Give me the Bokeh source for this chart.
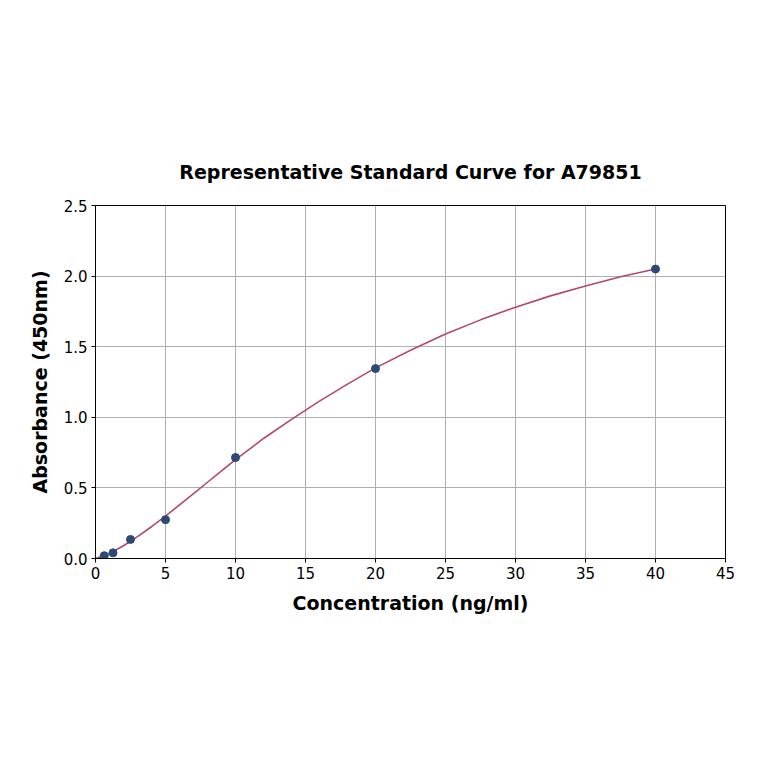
from bokeh.plotting import figure
from bokeh.models import Range1d, FixedTicker
from bokeh.embed import file_html
from bokeh.resources import INLINE

# Standard points
conc = [0.625, 1.25, 2.5, 5, 10, 20, 40]
absorb = [0.02, 0.04, 0.135, 0.275, 0.715, 1.345, 2.05]

# Fitted curve
curve_x = [0, 1, 2, 3, 4, 5, 6, 7, 8, 9, 10, 12, 14, 16, 18, 20, 22.5, 25, 27.5, 30, 32.5, 35, 37.5, 40]
curve_y = [0.0, 0.035, 0.09, 0.155, 0.225, 0.30, 0.38, 0.46, 0.54, 0.62, 0.70, 0.85, 0.985, 1.115,
           1.235, 1.35, 1.475, 1.59, 1.69, 1.78, 1.86, 1.93, 1.995, 2.05]

x_ticks = [0, 5, 10, 15, 20, 25, 30, 35, 40, 45]
y_ticks = [0.0, 0.5, 1.0, 1.5, 2.0, 2.5]
y_labels = {0.0: "0.0", 0.5: "0.5", 1.0: "1.0", 1.5: "1.5", 2.0: "2.0", 2.5: "2.5"}

FONT = "DejaVu Sans"

p = figure(width=748, height=748, output_backend="svg", toolbar_location=None,
           x_range=Range1d(0, 45), y_range=Range1d(0, 2.5),
           title="Representative Standard Curve for A79851",
           min_border_left=95, min_border_right=23, min_border_top=205, min_border_bottom=190)

p.title.text_font = FONT
p.title.text_font_size = "19px"
p.title.text_font_style = "bold"
p.title.text_color = "black"
p.title.align = "center"
p.title.offset = 0
p.title.standoff = 46

p.outline_line_color = "black"
p.outline_line_width = 1

for ax in (p.xaxis[0], p.yaxis[0]):
    ax.major_label_text_font = FONT
    ax.major_label_text_font_size = "15px"
    ax.major_label_text_color = "black"
    ax.axis_label_text_font = FONT
    ax.axis_label_text_font_size = "19px"
    ax.axis_label_text_font_style = "bold"
    ax.axis_label_text_color = "black"
    ax.minor_tick_line_color = None
    ax.major_tick_out = 4
    ax.major_tick_in = 0
    ax.axis_line_color = "black"
    ax.major_tick_line_color = "black"

p.xaxis[0].ticker = FixedTicker(ticks=x_ticks)
p.yaxis[0].ticker = FixedTicker(ticks=y_ticks)
p.yaxis[0].major_label_overrides = y_labels
p.xaxis[0].axis_label = "Concentration (ng/ml)"
p.yaxis[0].axis_label = "Absorbance (450nm)"
p.xaxis[0].axis_label_standoff = 10
p.yaxis[0].axis_label_standoff = 10
p.xaxis[0].major_label_standoff = 4
p.yaxis[0].major_label_standoff = 4

p.xgrid.grid_line_color = "#b0b0b0"
p.ygrid.grid_line_color = "#b0b0b0"
p.xgrid.ticker = FixedTicker(ticks=x_ticks)
p.ygrid.ticker = FixedTicker(ticks=y_ticks)

p.line(curve_x, curve_y, line_color="#b5476f", line_width=1.6)
p.scatter(conc, absorb, size=8, fill_color="#2b4a74", line_color="#2b4a74")

open("out.html", "w").write(file_html(p, INLINE))
